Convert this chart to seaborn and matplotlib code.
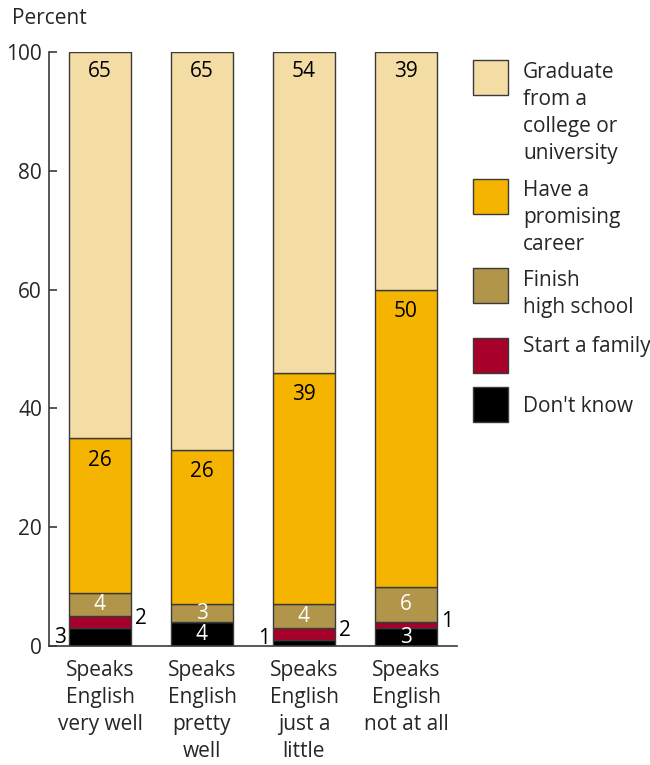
import matplotlib
matplotlib.use("Agg")
import matplotlib.pyplot as plt
import seaborn as sns
import numpy as np
from matplotlib.patches import Rectangle

sns.set_style("white")
plt.rcParams['font.family'] = ['Open Sans', 'DejaVu Sans']

categories = ["Speaks\nEnglish\nvery well", "Speaks\nEnglish\npretty\nwell",
              "Speaks\nEnglish\njust a\nlittle", "Speaks\nEnglish\nnot at all"]
dont_know = [3, 4, 1, 3]
start_family = [2, 0, 2, 1]
finish_hs = [4, 3, 4, 6]
career = [26, 26, 39, 50]
graduate_height = [65, 67, 54, 40]   # visual segment heights (bars reach 100)
graduate_label = [65, 65, 54, 39]    # printed values

series_names = ["Don't know", "Start a family", "Finish\nhigh school",
                "Have a\npromising\ncareer", "Graduate\nfrom a\ncollege or\nuniversity"]
colors = ["#000000", "#A6002B", "#B0954A", "#F5B400", "#F4DCA5"]
edge = "#3a3a3a"

fig = plt.figure(figsize=(6.5, 7.65), dpi=100)
ax = fig.add_axes([49/650, 119/765, 408/650, 594/765])

stack = [dont_know, start_family, finish_hs, career, graduate_height]
bottom = np.zeros(len(categories))
for vals, col in zip(stack, colors):
    sns.barplot(x=categories, y=vals, bottom=bottom, color=col, width=0.61,
                edgecolor=edge, linewidth=1.0, ax=ax, saturation=1)
    bottom = bottom + np.array(vals)

ax.set_xlim(-0.5, 3.5)
ax.set_ylim(0, 100)
ax.set_yticks([0, 20, 40, 60, 80, 100])
for s in ["top", "right"]:
    ax.spines[s].set_visible(False)
for s in ["left", "bottom"]:
    ax.spines[s].set_color(edge)
    ax.spines[s].set_linewidth(1.2)
ax.tick_params(axis="y", direction="in", length=6, width=1.2, color=edge,
               labelsize=15, pad=5, left=True)
ax.tick_params(axis="x", length=0, labelsize=15, pad=10)
for lbl in ax.get_xticklabels():
    lbl.set_linespacing(1.37)
    lbl.set_verticalalignment("top")
ax.set_xlabel("")
fig.text(12/650, 1 - 18/765, "Percent", fontsize=15, va="center", ha="left")

fs = 15
half_w = 0.61 / 2
for i in range(len(categories)):
    d, f, h, c, g = dont_know[i], start_family[i], finish_hs[i], career[i], graduate_height[i]
    top_g = d + f + h + c + g
    ax.text(i, top_g - 3.2, str(graduate_label[i]), ha="center", va="center", fontsize=fs, color="black")
    top_c = d + f + h + c
    ax.text(i, top_c - 3.7, str(c), ha="center", va="center", fontsize=fs, color="black")
    ax.text(i, d + f + h / 2, str(h), ha="center", va="center", fontsize=fs, color="white")
    if f > 0:
        ax.text(i + half_w + 0.04, d + f / 2 + 0.6, str(f), ha="left", va="center", fontsize=fs, color="black")
    if d >= 3 and f <= 1 or d >= 4:
        ax.text(i, d / 2, str(d), ha="center", va="center", fontsize=fs, color="white")
    else:
        ax.text(i - half_w - 0.03, max(d / 2, 1.3), str(d), ha="right", va="center", fontsize=fs, color="black")

# legend (manual)
leg_items = list(zip(series_names, colors))[::-1]
patch_tops = [60, 179, 268, 338, 387]
text_y = [62, 180, 270, 347, 406]
for (name, col), ytop, ty in zip(leg_items, patch_tops, text_y):
    fig.patches.append(Rectangle((473/650, 1 - (ytop + 35)/765), 35/650, 35/765,
                                 transform=fig.transFigure, facecolor=col,
                                 edgecolor=edge, linewidth=1.0))
    nlines = name.count("\n") + 1
    if nlines == 1:
        fig.text(523/650, 1 - ty/765, name, fontsize=fs, va="center", ha="left")
    else:
        fig.text(523/650, 1 - ty/765, name, fontsize=fs, va="top", ha="left", linespacing=1.37)

fig.savefig("out.png", dpi=100)
